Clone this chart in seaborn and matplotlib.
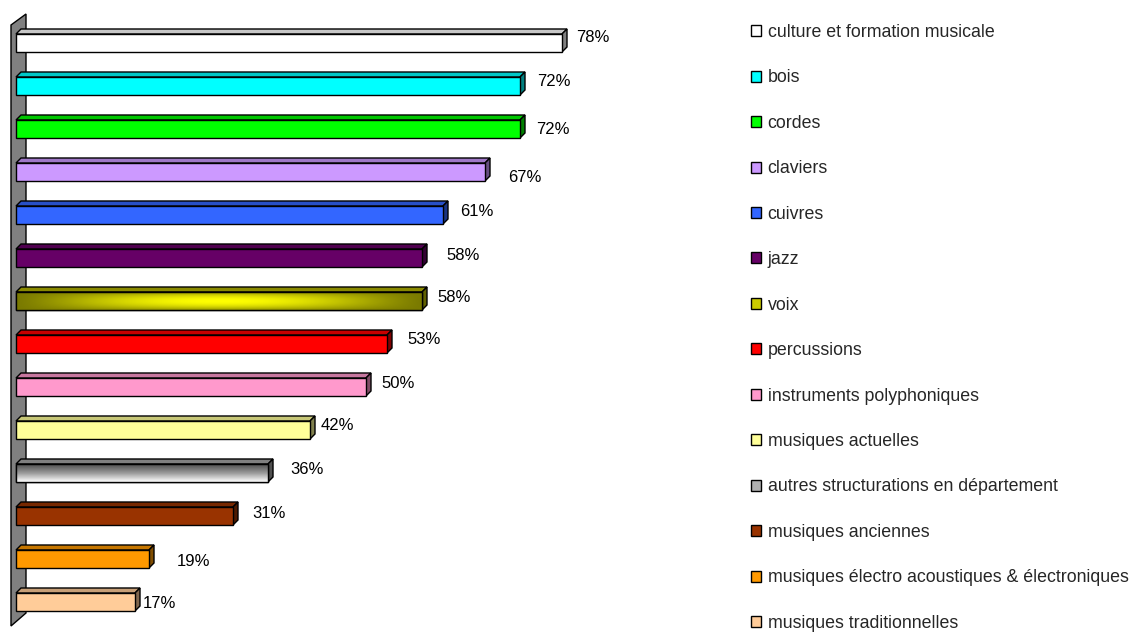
import numpy as np
import matplotlib
matplotlib.use('Agg')
import matplotlib.pyplot as plt
import seaborn as sns
from matplotlib.patches import Polygon, Patch
from matplotlib.colors import LinearSegmentedColormap, to_rgb

categories = ['culture et formation musicale', 'bois', 'cordes', 'claviers', 'cuivres',
              'jazz', 'voix', 'percussions', 'instruments polyphoniques',
              'musiques actuelles', 'autres structurations en département',
              'musiques anciennes', 'musiques électro acoustiques & électroniques',
              'musiques traditionnelles']
values = [78, 72, 72, 67, 61, 58, 58, 53, 50, 42, 36, 31, 19, 17]
labels = ['78%', '72%', '72%', '67%', '61%', '58%', '58%', '53%', '50%',
          '42%', '36%', '31%', '19%', '17%']
colors = ['#ffffff', '#00ffff', '#00ff00', '#cc99ff', '#3366ff', '#660066', '#808000',
          '#ff0000', '#ff99cc', '#ffff99', '#a0a0a0', '#993300', '#ff9900', '#ffcc99']

# label nudges in pixels (right, down) from the end of each bar, as in the original
label_nudge = [(14, -5), (17, -4), (16, 0), (23, 6), (17, -3), (24, -3), (15, -4),
               (20, -5), (15, -4), (11, -5), (22, -3), (19, -3), (28, 2), (8, 1)]

sns.set_style('white')
plt.rcParams['font.family'] = ['Liberation Sans', 'DejaVu Sans']

W, H = 1136, 636
fig = plt.figure(figsize=(W / 100, H / 100), dpi=100)
ax = fig.add_axes([0, 0, 1, 1])

# pixel geometry: value 0 at x=16px, 7px per percent; rows every 43px starting at 43px
x0_px, px_per, row0, row_px = 16, 7.0, 43, 43.0

sns.barplot(x=values, y=categories, hue=categories, palette=colors, orient='h',
            width=18 / row_px, edgecolor='black', linewidth=1, legend=False,
            saturation=1, dodge=False, ax=ax, zorder=3)

xlim = (-x0_px / px_per, (W - x0_px) / px_per)
ylim = ((H - row0) / row_px, -row0 / row_px)

# back wall (grey strip on the left)
def px2data(px, py):
    return ((px - x0_px) / px_per, (py - row0) / row_px)

wall = Polygon([px2data(11, 25), px2data(26, 14), px2data(26, 613), px2data(11, 626)],
               closed=True, facecolor='#808080', edgecolor='black', lw=1, zorder=1)
ax.add_patch(wall)

dx = 5 / px_per
dy = 5 / row_px
bars = [p for p in ax.patches if p is not wall][:len(values)]
bars = sorted(bars, key=lambda p: p.get_y())
for i, p in enumerate(bars):
    x, y, w, h = p.get_x(), p.get_y(), p.get_width(), p.get_height()
    base = np.array(to_rgb(colors[i]))
    top = Polygon([(x, y), (x + w, y), (x + w + dx, y - dy), (x + dx, y - dy)],
                  closed=True, facecolor=base * 0.78, edgecolor='black', lw=1, zorder=2.5)
    side = Polygon([(x + w, y), (x + w, y + h), (x + w + dx, y + h - dy), (x + w + dx, y - dy)],
                   closed=True, facecolor=base * 0.5, edgecolor='black', lw=1, zorder=2.5)
    ax.add_patch(top)
    ax.add_patch(side)

    if categories[i] == 'voix':
        gx = np.sin(np.linspace(0, np.pi, 200)) ** 1.2
        gy = np.sin(np.linspace(0.15, np.pi - 0.15, 40)) ** 0.8
        grad = gy[:, None] * gx[None, :]
        cmap = LinearSegmentedColormap.from_list('v', ['#7a7a00', '#ffff00'])
        im = ax.imshow(grad, extent=(x, x + w, y + h, y), cmap=cmap, aspect='auto',
                       interpolation='bilinear', zorder=3.5)
        im.set_clip_path(p)
        top.set_facecolor('#8a8a00')
        side.set_facecolor('#606000')
    elif categories[i] == 'autres structurations en département':
        gy = np.linspace(0, 1, 40)[:, None] * np.ones((1, 10))
        cmap = LinearSegmentedColormap.from_list('g', ['#505050', '#9a9a9a', '#ffffff'])
        im = ax.imshow(gy, extent=(x, x + w, y + h, y), cmap=cmap, aspect='auto',
                       interpolation='bilinear', zorder=3.5)
        im.set_clip_path(p)
        top.set_facecolor('#808080')
        side.set_facecolor('#505050')
    if categories[i] in ('voix', 'autres structurations en département'):
        edge = Polygon([(x, y), (x + w, y), (x + w, y + h), (x, y + h)], closed=True,
                       fill=False, edgecolor='black', lw=1, zorder=4)
        ax.add_patch(edge)

    ndx, ndy = label_nudge[i]
    ax.annotate(labels[i], (x + w, y + h / 2), xytext=(ndx, -ndy),
                textcoords='offset pixels', ha='left', va='center',
                fontsize=12, color='black', zorder=5)

ax.set_xlim(*xlim)
ax.set_ylim(*ylim)
ax.axis('off')

handles = [Patch(facecolor=c, edgecolor='black', lw=1) for c in colors]
handles[6] = Patch(facecolor='#cccc00', edgecolor='black', lw=1)
handles[10] = Patch(facecolor='#b0b0b0', edgecolor='black', lw=1)
fig.legend(handles, categories, loc='upper left',
           bbox_to_anchor=(751 / W, 1 - 24 / H), frameon=False, fontsize=12.8,
           handlelength=0.58, handleheight=0.58, handletextpad=0.35,
           labelspacing=1.6, borderpad=0, borderaxespad=0)

fig.savefig('out.png', dpi=100, facecolor='white')
